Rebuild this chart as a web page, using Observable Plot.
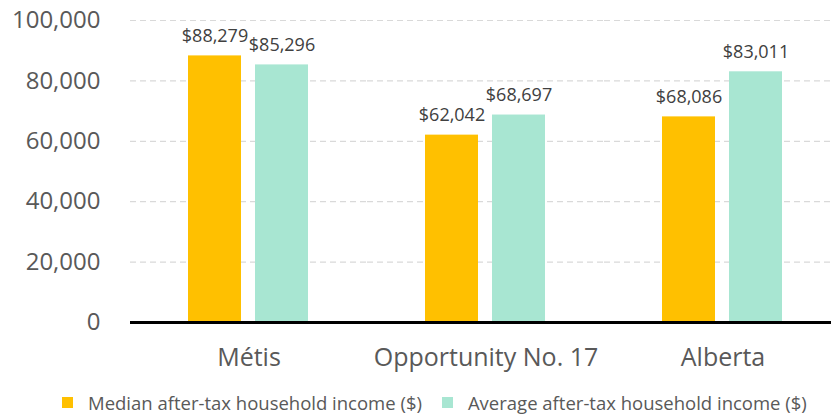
<!DOCTYPE html>
<html>
<head>
<meta charset="utf-8">
<script src="https://cdn.jsdelivr.net/npm/d3@7"></script>
<script src="https://cdn.jsdelivr.net/npm/@observablehq/plot@0.6"></script>
<style>
  body { margin: 0; background: #fff; font-family: "Open Sans", sans-serif; }
  #legend { display: flex; align-items: center; height: 34px; padding-left: 62px; font-size: 18.5px; color: #595959; font-family: "Open Sans", sans-serif; white-space: nowrap; }
  .sw { width: 11px; height: 11px; display: inline-block; margin-right: 15px; }
  .item { display: flex; align-items: center; margin-right: 20px; }
</style>
</head>
<body>
<div id="chart"></div>
<div id="legend"></div>
<script>
const categories = ["Métis", "Opportunity No. 17", "Alberta"];
const seriesNames = ["Median after-tax household income ($)", "Average after-tax household income ($)"];
const medianValues = [88279, 62042, 68086];
const averageValues = [85296, 68697, 83011];
const yTicks = [0, 20000, 40000, 60000, 80000, 100000];
const colors = ["#FFC000", "#A8E6D2"];

const data = [];
categories.forEach((c, i) => {
  data.push({cat: c, series: seriesNames[0], value: medianValues[i]});
  data.push({cat: c, series: seriesNames[1], value: averageValues[i]});
});

const fmt = d3.format(",");
const plot = Plot.plot({
  width: 831,
  height: 385,
  marginLeft: 130,
  marginRight: 0,
  marginTop: 20,
  marginBottom: 63,
  style: {fontFamily: "'Open Sans', sans-serif", color: "#595959", background: "#fff", overflow: "visible"},
  fx: {domain: categories, range: [130, 841], padding: 0, axis: null},
  x: {domain: seriesNames, paddingInner: 0.207, paddingOuter: 0.859, axis: null},
  y: {domain: [0, 100000], axis: null},
  color: {domain: seriesNames, range: colors},
  marks: [
    Plot.ruleY(yTicks.filter(d => d > 0), {stroke: "#d9d9d9", strokeWidth: 1.2, strokeDasharray: "6,4"}),
    Plot.barY(data, {fx: "cat", x: "series", y: "value", fill: "series"}),
    Plot.text(data, {fx: "cat", x: "series", y: "value", text: d => "$" + fmt(d.value), dy: -20, lineAnchor: "middle", fontSize: 18, fill: "#404040"}),
    Plot.ruleY([0], {stroke: "#000", strokeWidth: 3}),
    Plot.axisY(yTicks, {tickSize: 0, tickPadding: 30, fontSize: 24, tickFormat: d => fmt(d), fill: "#595959", label: null}),
    Plot.text(categories, {fx: d => d, frameAnchor: "bottom", dy: 35, lineAnchor: "middle", fontSize: 25, fill: "#595959"})
  ]
});
document.getElementById("chart").appendChild(plot);

const legend = document.getElementById("legend");
seriesNames.forEach((s, i) => {
  const item = document.createElement("span");
  item.className = "item";
  const sw = document.createElement("span");
  sw.className = "sw";
  sw.style.background = colors[i];
  item.appendChild(sw);
  item.appendChild(document.createTextNode(s));
  legend.appendChild(item);
});
</script>
</body>
</html>
